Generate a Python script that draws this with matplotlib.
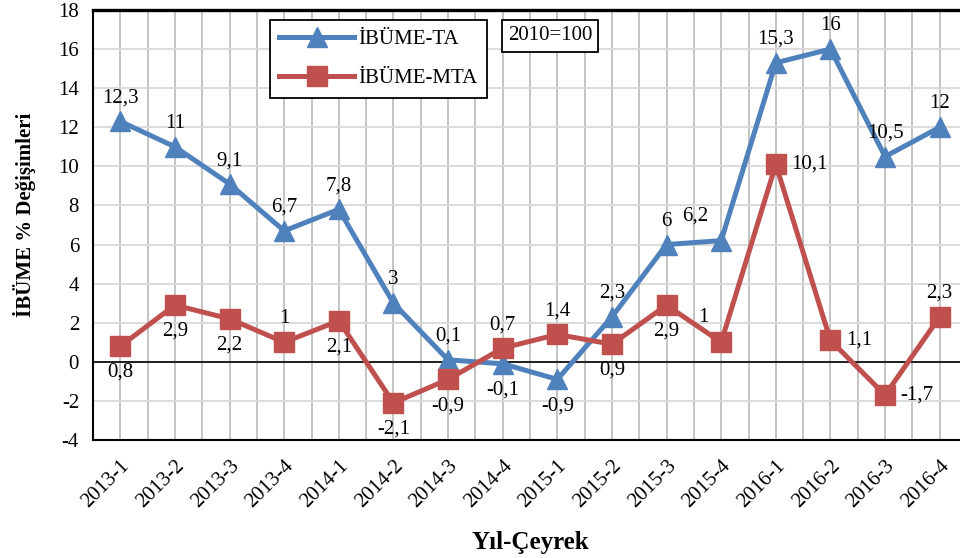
import numpy as np
import matplotlib
matplotlib.use('Agg')
import matplotlib.pyplot as plt

plt.rcParams['font.family'] = ['Liberation Serif', 'DejaVu Serif']
plt.rcParams['axes.unicode_minus'] = False

quarters = ['2013-1', '2013-2', '2013-3', '2013-4', '2014-1', '2014-2', '2014-3', '2014-4',
            '2015-1', '2015-2', '2015-3', '2015-4', '2016-1', '2016-2', '2016-3', '2016-4']
ta = [12.3, 11, 9.1, 6.7, 7.8, 3, 0.1, -0.1, -0.9, 2.3, 6, 6.2, 15.3, 16, 10.5, 12]
mta = [0.8, 2.9, 2.2, 1, 2.1, -2.1, -0.9, 0.7, 1.4, 0.9, 2.9, 1, 10.1, 1.1, -1.7, 2.3]

# label placement: a=above, b=below, r=right, l=above-left
ta_pos = ['a', 'a', 'a', 'a', 'a', 'a', 'a', 'b', 'b', 'a', 'a', 'l', 'a', 'a', 'a', 'a']
mta_pos = ['b', 'b', 'b', 'a', 'b', 'b', 'b', 'a', 'a', 'b', 'b', 'l', 'r', 'r', 'r', 'a']

blue = '#4F81BD'
red = '#C0504D'

fig = plt.figure(figsize=(9.6, 5.58), dpi=100)
ax = fig.add_axes([93 / 960, 118 / 558, 874 / 960, 430 / 558])

x = np.arange(len(quarters))

ax.set_xlim(-0.5, len(quarters) - 0.5)
ax.set_ylim(-4, 18)
ax.set_yticks(np.arange(-4, 19, 2))
ax.set_xticks(x)
ax.set_xticks(np.arange(-0.5, len(quarters), 0.5), minor=True)
ax.grid(True, axis='x', which='both', color='#BFBFBF', lw=1.3)
ax.grid(True, axis='y', which='major', color='#D9D9D9', lw=1.3)
ax.set_axisbelow(True)
ax.axhline(0, color='black', lw=1.2, zorder=1)

ax.plot(x, ta, color=blue, lw=3.6, marker='^', ms=15, label='İBÜME-TA', zorder=3)
ax.plot(x, mta, color=red, lw=3.6, marker='s', ms=14, label='İBÜME-MTA', zorder=3)


def fmt(v):
    s = ('%g' % v).replace('.', ',')
    return s


def put_labels(vals, pos):
    for i, (v, p) in enumerate(zip(vals, pos)):
        if p == 'a':
            off, ha, va = (0, 10), 'center', 'bottom'
        elif p == 'b':
            off, ha, va = (0, -12), 'center', 'top'
        elif p == 'r':
            off, ha, va = (11, 0), 'left', 'center'
        else:
            off, ha, va = (-9, 11), 'right', 'bottom'
        ax.annotate(fmt(v), (i, v), xytext=off, textcoords='offset points',
                    ha=ha, va=va, fontsize=15, zorder=4)


put_labels(ta, ta_pos)
put_labels(mta, mta_pos)

ax.set_xticklabels(quarters, rotation=45, ha='right', rotation_mode='anchor', fontsize=15)
ax.tick_params(axis='y', labelsize=15, length=0, pad=10)
ax.tick_params(axis='x', length=0, pad=12)
ax.tick_params(which='minor', length=0)

for s in ['left', 'bottom', 'top']:
    ax.spines[s].set_color('black')
ax.spines['left'].set_linewidth(1.5)
ax.spines['bottom'].set_linewidth(1.5)
ax.spines['top'].set_linewidth(2.4)
ax.spines['right'].set_visible(False)

ax.set_ylabel('İBÜME % Değişimleri', fontsize=15, fontweight='bold')
ax.yaxis.set_label_coords(-(93 - 36) / 874, (440 - 215) / 430)
ax.set_xlabel('Yıl-Çeyrek', fontsize=18, fontweight='bold', labelpad=14)

leg = ax.legend(loc='upper left', bbox_to_anchor=((270 - 93) / 874, 1 - 10 / 430), fontsize=15,
                frameon=True, fancybox=False, edgecolor='black', handlelength=3.6,
                borderpad=0.45, labelspacing=0.95, handletextpad=0.2, borderaxespad=0)
leg.get_frame().set_linewidth(1.3)
leg.get_frame().set_alpha(1)

ax.text((550 - 93) / 874, 1 - (36 - 10) / 430, '2010=100', transform=ax.transAxes, fontsize=15,
        ha='center', va='center',
        bbox=dict(boxstyle='square,pad=0.3', fc='white', ec='black', lw=1.3))

fig.savefig('out.png', dpi=100)
